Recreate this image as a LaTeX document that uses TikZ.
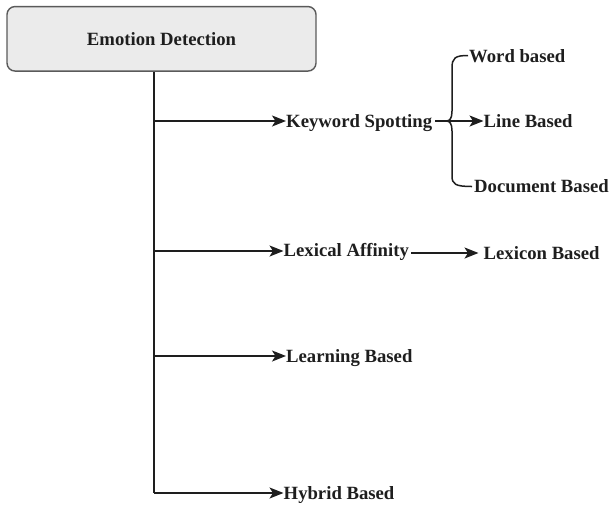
\documentclass[tikz,border=0pt]{standalone}
\usepackage{fontspec}
\setmainfont{Liberation Serif}
\usetikzlibrary{arrows.meta}
\definecolor{ink}{HTML}{1E1E1E}
\definecolor{boxfill}{HTML}{EBEBEB}
\definecolor{boxline}{HTML}{5A5A5A}
\begin{document}
\begin{tikzpicture}[x=1pt,y=-1pt,
  label/.style={inner sep=0pt, text height=12.5pt, text depth=0pt, anchor=west,
    font=\fontsize{18.7}{20}\selectfont\bfseries, text=ink},
  root/.style={draw=boxline, fill=boxfill, line width=1.4pt, rounded corners=8pt,
    minimum width=309pt, minimum height=64.5pt, inner sep=0pt,
    font=\fontsize{18.7}{20}\selectfont\bfseries, text=ink},
  link/.style={draw=ink, line width=1.5pt},
  arrowlink/.style={link, -{Stealth[length=14pt,width=11pt,inset=3.5pt]}}]
\useasboundingbox (0,0) rectangle (613,504);

% root box
\node[root] (root) at (161.5,38.8) {Emotion Detection};

% first-level categories
\node[label] (kw)  at (286,121) {Keyword Spotting};
\node[label] (lex) at (283.5,250) {Lexical Affinity};
\node[label] (lrn) at (286,356) {Learning Based};
\node[label] (hyb) at (283.5,493) {Hybrid Based};

% second-level categories
\node[label] (word) at (469,56) {Word based};
\node[label] (line) at (483.5,121) {Line Based};
\node[label] (doc)  at (474,186) {Document Based};
\node[label] (lexb) at (483.5,253) {Lexicon Based};

% trunk and branch points
\coordinate (t0) at (154,71);
\coordinate (b1) at (154,121);
\coordinate (b2) at (154,251);
\coordinate (b3) at (154,356);
\coordinate (b4) at (154,493);
\draw[link] (root.south -| t0) -- (b4);
\draw[arrowlink] (b1) -- (kw.west);
\draw[arrowlink] (b2) -- (lex.west |- b2);
\draw[arrowlink] (b3) -- (lrn.west);
\draw[arrowlink] (b4) -- (hyb.west);

% brace grouping the keyword-spotting variants
\coordinate (tip) at (446.5,121);
\draw[link] (468,55.5) .. controls (455,55.5) and (452,58) .. (452,68)
  -- (452,111) .. controls (452,118) and (450,121) .. (tip)
  .. controls (450,121) and (452,124) .. (452,131)
  -- (452,176) .. controls (452,184) and (455,186.5) .. (472,186.5);
\draw[link] (kw.east) ++(3pt,0) -- (tip);
\draw[arrowlink] (tip) -- (line.west);

% lexical affinity to lexicon based
\draw[arrowlink] (lex.east |- lexb.west) ++(2pt,0) -- ([xshift=-5pt]lexb.west);
\end{tikzpicture}
\end{document}
